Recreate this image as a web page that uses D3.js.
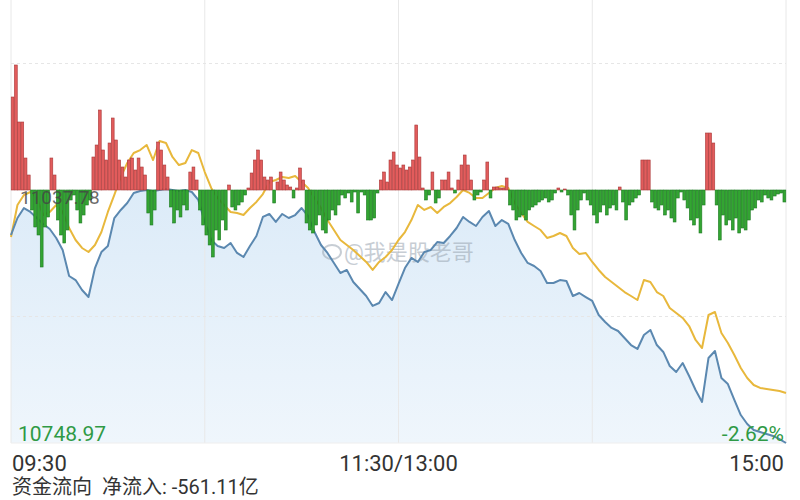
<!DOCTYPE html>
<html><head><meta charset="utf-8">
<script src="https://cdn.jsdelivr.net/npm/d3@7"></script>
<style>html,body{margin:0;padding:0;background:#fff;} svg{display:block;}</style>
</head><body>
<svg id="chart" width="800" height="500"></svg>
<script>
// ---------- data ----------
const prevClose = 11037.78;
const lowPrice = 10748.97;
const pctLabel = "-2.62%";
const flowTitle = "资金流向  净流入: -561.11亿";
const watermark = "@我是股老哥";
const tickMinutes = [0, 120, 240];
const tickLabels = ["09:30", "11:30/13:00", "15:00"];
const gridMinutes = [0, 60, 120, 180, 240];

// index price, one point every 2 trading minutes
const indexPrice = [
10986.4,11005.8,11017.2,11012.7,11005.8,10999.0,10993.3,10983.0,10969.3,10939.6,
10935.0,10923.6,10915.6,10948.7,10967.0,10973.9,11005.8,11015.0,11022.9,11034.4,
11036.6,11037.8,11036.6,11037.8,11038.9,11037.8,11036.6,11037.8,11035.5,11026.4,
11001.3,10980.7,10973.9,10971.6,10977.3,10965.9,10961.3,10973.9,10985.3,11007.0,
11010.4,11001.3,11010.4,11005.8,11009.2,11017.2,11008.1,10989.8,10975.0,10965.9,
10954.5,10943.0,10946.5,10932.8,10924.8,10916.8,10905.4,10908.8,10921.3,10912.2,
10930.5,10948.7,10960.2,10955.6,10967.0,10969.3,10978.4,10977.3,10985.3,10994.4,
11007.0,11001.3,10996.7,11007.0,11013.8,10996.7,11003.5,10999.0,10980.7,10965.9,
10954.5,10951.0,10945.3,10931.6,10931.6,10935.0,10933.9,10916.8,10920.2,10915.6,
10911.1,10895.1,10887.1,10880.3,10876.8,10868.8,10860.8,10856.3,10872.3,10878.0,
10860.8,10852.9,10836.9,10830.0,10840.3,10825.5,10809.5,10795.8,10846.0,10854.0,
10823.2,10816.3,10798.1,10780.9,10770.7,10763.8,10761.5,10759.2,10757.0,10753.5,
10748.97
];

// average price line, one point every 2 trading minutes
const avgPrice = [
10984.1,11020.7,11032.1,11035.5,11028.6,11009.2,11012.7,11020.7,11012.7,10994.4,
10980.7,10971.6,10967.0,10975.0,10989.8,11012.7,11032.1,11052.6,11068.6,11080.0,
11083.4,11089.2,11072.0,11093.7,11091.4,11075.5,11066.3,11068.6,11083.4,11080.0,
11058.3,11040.1,11028.6,11020.7,11012.7,11011.5,11009.2,11017.2,11024.1,11033.2,
11046.9,11049.2,11052.6,11051.5,11053.8,11046.9,11040.1,11028.6,11017.2,11003.5,
10992.1,10980.7,10975.0,10969.3,10962.4,10955.6,10946.5,10955.6,10961.3,10969.3,
10980.7,10989.8,11003.5,11020.7,11015.0,11018.4,11011.5,11018.4,11022.9,11029.8,
11037.8,11034.4,11028.6,11028.6,11034.4,11040.1,11042.4,11040.1,11022.9,11011.5,
11001.3,10996.7,10992.1,10983.0,10985.3,10988.7,10985.3,10971.6,10964.7,10965.9,
10955.6,10946.5,10938.5,10932.8,10927.1,10921.3,10916.8,10912.2,10935.0,10932.8,
10921.3,10916.8,10903.1,10897.4,10891.7,10882.5,10866.6,10857.4,10895.1,10898.5,
10874.5,10863.1,10849.4,10834.6,10823.2,10815.2,10811.8,10810.6,10809.5,10808.3,
10806.1
];

// net money flow per minute (亿)
const flow = [
9.3,12.5,6.8,6.8,3.2,1.5,-2.0,-3.7,-4.5,-7.7,
-3.7,-2.7,3.2,1.5,-3.0,-4.5,-5.3,-4.0,-1.0,-0.5,
-2.0,-3.3,-2.5,-1.5,-1.0,3.3,4.5,8.0,4.0,3.0,
4.7,7.2,5.0,3.0,2.3,1.3,3.0,3.2,2.0,3.2,
2.3,1.5,-2.3,-3.5,-2.0,4.8,4.0,2.5,1.3,-1.7,
-3.3,-2.0,-2.7,-1.5,-2.0,1.8,2.3,1.0,-2.0,-3.5,
-4.5,-5.5,-6.7,-4.0,-5.0,-3.0,-4.0,0.5,-1.7,-2.0,
-1.5,-1.2,-0.5,0.2,1.7,3.0,4.0,3.0,1.3,1.0,
1.3,-1.3,0.8,1.8,1.0,0.5,0.3,-0.8,0.2,2.2,
1.0,-3.3,-4.0,-4.3,-3.5,-2.5,-4.0,-4.3,-3.0,-2.0,
-2.5,-1.5,-0.5,-0.8,-0.3,-1.2,-0.2,-2.3,-0.2,-0.5,
-3.0,-3.0,-2.8,-0.3,1.0,1.8,0.8,3.0,3.8,2.5,
2.2,2.5,2.0,2.3,3.0,6.5,3.3,0.2,-1.0,-0.5,
1.8,-1.3,-0.8,1.0,1.0,1.8,0.2,-0.3,1.0,2.5,
3.5,2.5,1.0,-1.0,-0.5,-0.2,1.0,2.8,-0.8,0.3,
0.3,0.2,0.2,1.2,-1.5,-2.0,-3.0,-2.7,-2.5,-3.0,
-2.0,-1.7,-1.5,-1.2,-1.0,-0.8,-1.2,-1.0,-0.3,0.2,
-0.2,0.1,-0.5,-2.5,-4.0,-2.0,-1.0,-0.3,-1.0,-1.5,
-2.5,-3.3,-2.2,-1.5,-2.5,-1.8,-1.5,-2.0,0.3,-1.2,
-3.0,-1.5,-1.2,-0.8,-0.5,3.0,3.0,3.0,-1.2,-1.8,
-2.0,-1.5,-2.5,-2.0,-2.8,-3.2,-0.8,-0.2,-1.0,-1.8,
-3.0,-3.5,-2.8,-4.3,-1.5,5.7,5.7,4.7,-1.5,-5.0,
-2.5,-3.5,-3.0,-4.0,-2.8,-4.3,-3.8,-4.0,-3.0,-2.0,
-1.8,-1.0,-1.2,-0.5,-0.8,-1.0,-0.6,-0.4,-0.3,-1.2
];

// ---------- chart ----------
const svg = d3.select("#chart");
const W = 800, H = 500;
const plotLeft = 11, plotRight = 786, plotBottom = 443, plotTop = -63;
const font = "Roboto, 'Noto Sans CJK SC', 'Noto Sans', sans-serif";

const x = d3.scaleLinear().domain([0, 240]).range([plotLeft, plotRight]);
const y = d3.scaleLinear().domain([lowPrice, 2 * prevClose - lowPrice]).range([plotBottom, plotTop]);
const yFlow = d3.scaleLinear().domain([-10, 10]).range([y(prevClose) + 100, y(prevClose) - 100]);

svg.append("rect").attr("width", W).attr("height", H).attr("fill", "#fff");

const defs = svg.append("defs");
const grad = defs.append("linearGradient").attr("id", "areaGrad")
  .attr("gradientUnits", "userSpaceOnUse")
  .attr("x1", 0).attr("x2", 0).attr("y1", y(prevClose)).attr("y2", plotBottom);
grad.append("stop").attr("offset", "0%").attr("stop-color", "#dcebf8");
grad.append("stop").attr("offset", "100%").attr("stop-color", "#eff6fc");

const pts = (arr) => arr.map((v, i) => ({ t: i * 2, v }));

// area under index line
svg.append("path")
  .datum(pts(indexPrice))
  .attr("fill", "url(#areaGrad)")
  .attr("d", d3.area().x(d => x(d.t)).y0(plotBottom).y1(d => y(d.v)));

// grid
const grid = svg.append("g");
grid.selectAll("line.v").data(gridMinutes).join("line")
  .attr("x1", d => x(d)).attr("x2", d => x(d))
  .attr("y1", 0).attr("y2", plotBottom)
  .attr("stroke", "#e8e8e8").attr("stroke-width", 1);
const hLevels = [0.25, 0.75].map(f => plotTop + f * (plotBottom - plotTop));
grid.selectAll("line.h").data(hLevels).join("line")
  .attr("x1", plotLeft).attr("x2", plotRight)
  .attr("y1", d => d).attr("y2", d => d)
  .attr("stroke", "#e6e6e6").attr("stroke-dasharray", "3,3");
grid.append("line")
  .attr("x1", plotLeft).attr("x2", plotRight)
  .attr("y1", plotBottom).attr("y2", plotBottom)
  .attr("stroke", "#eeeeee");

// watermark
const wm = svg.append("g").attr("opacity", 0.55);
wm.append("ellipse").attr("cx", 332).attr("cy", 252).attr("rx", 9).attr("ry", 7)
  .attr("fill", "none").attr("stroke", "#9aa6b2").attr("stroke-width", 2);
wm.append("text").attr("x", 344).attr("y", 260)
  .attr("font-family", font).attr("font-size", 22).attr("fill", "#9aa6b2")
  .text(watermark);

// lines (drawn beneath the flow bars)
const line = d3.line().x(d => x(d.t)).y(d => y(d.v));
svg.append("path").datum(pts(avgPrice))
  .attr("fill", "none").attr("stroke", "#e8b83c").attr("stroke-width", 2)
  .attr("stroke-linejoin", "round").attr("d", line);
svg.append("path").datum(pts(indexPrice))
  .attr("fill", "none").attr("stroke", "#5b88b0").attr("stroke-width", 2)
  .attr("stroke-linejoin", "round").attr("d", line);

// flow bars
const bw = (x(1) - x(0));
svg.append("g").selectAll("rect").data(flow).join("rect")
  .attr("x", (d, i) => x(i) + 0.2)
  .attr("width", bw - 0.4)
  .attr("y", d => d >= 0 ? yFlow(d) : yFlow(0))
  .attr("height", d => Math.max(0.8, Math.abs(yFlow(d) - yFlow(0))))
  .attr("fill", d => d >= 0 ? "#e25c5c" : "#33a532")
  .attr("stroke", d => d >= 0 ? "#a83838" : "#1d7a22")
  .attr("stroke-width", 0.6);

// prev close label
svg.append("text").attr("x", 20).attr("y", y(prevClose) + 14)
  .attr("font-family", font).attr("font-size", 19).attr("fill", "#444")
  .attr("fill-opacity", 0.8)
  .text(d3.format(".2f")(prevClose));

// labels
svg.append("text").attr("x", 18).attr("y", 441)
  .attr("font-family", font).attr("font-size", 21).attr("fill", "#2f9a45")
  .text(d3.format(".2f")(lowPrice));
svg.append("text").attr("x", 784).attr("y", 441).attr("text-anchor", "end")
  .attr("font-family", font).attr("font-size", 21).attr("fill", "#2f9a45")
  .text(pctLabel);

// time axis
svg.append("g").selectAll("text").data(tickMinutes).join("text")
  .attr("x", (d, i) => i === 0 ? x(d) + 1 : (i === tickMinutes.length - 1 ? x(d) - 2 : x(d)))
  .attr("y", 471)
  .attr("text-anchor", (d, i) => i === 0 ? "start" : (i === tickMinutes.length - 1 ? "end" : "middle"))
  .attr("font-family", font).attr("font-size", 22).attr("fill", "#333")
  .text((d, i) => tickLabels[i]);

svg.append("text").attr("x", 12).attr("y", 494)
  .attr("font-family", font).attr("font-size", 20).attr("fill", "#333")
  .attr("xml:space", "preserve")
  .text(flowTitle);
</script>
</body></html>
